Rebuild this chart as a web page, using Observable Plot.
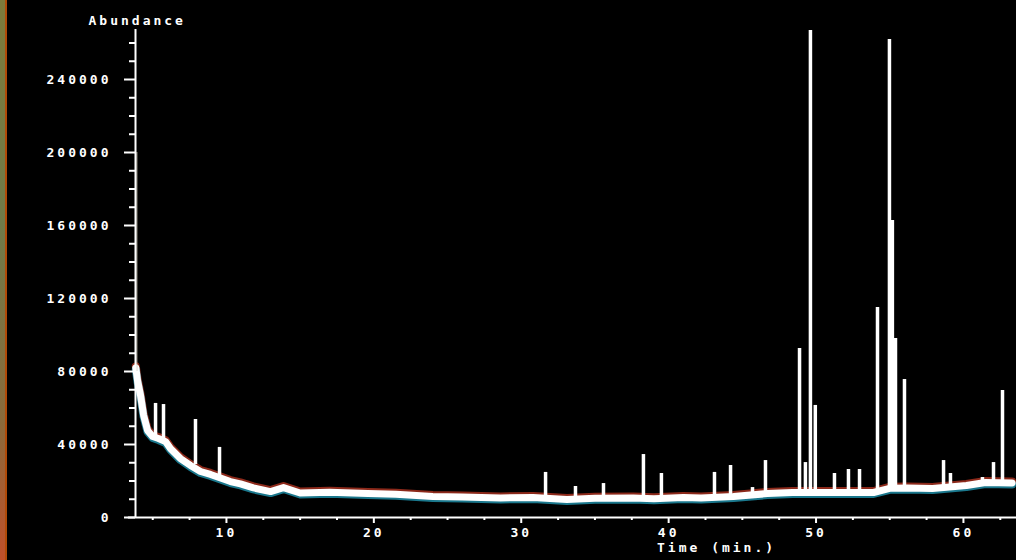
<!DOCTYPE html>
<html><head><meta charset="utf-8">
<script src="https://cdn.jsdelivr.net/npm/d3@7"></script>
<script src="https://cdn.jsdelivr.net/npm/@observablehq/plot@0.6"></script>
<style>
html,body{margin:0;padding:0;background:#000;}
#wrap{position:relative;width:1016px;height:560px;overflow:hidden;background:#000;}
#edge{position:absolute;left:0;top:0;width:5px;height:560px;background:linear-gradient(#7d7a3a,#6f7a48 40%,#8a6a3a 75%,#c0502a);}
#edge2{position:absolute;left:5px;top:0;width:2px;height:560px;background:#b04a08;}
svg text{font-family:'DejaVu Sans Mono',monospace !important;font-size:13px !important;font-weight:bold !important;letter-spacing:3px !important;}
</style></head><body>
<div id="wrap"><div id="chart"></div><div id="edge"></div><div id="edge2"></div></div>
<script>
// Baseline of the total ion chromatogram (time in min, abundance)
const baseTime  = [3.85, 3.97, 4.17, 4.38, 4.65, 4.99, 5.39, 5.87, 6.2, 6.88, 7.56, 8.24, 8.92, 9.6, 10.27, 10.95, 11.83, 12.99, 13.87, 15.0, 17.0, 19.6, 21.5, 24.0, 26.0, 28.6, 30.8, 33.1, 35.0, 37.6, 39.0, 41.0, 42.2, 44.4, 46.7, 48.4, 50.3, 53.9, 55.0, 56.2, 57.9, 60.2, 61.5, 63.3];
const baseAbund = [82000, 75000, 67000, 56000, 47700, 44400, 43300, 41600, 37800, 32300, 28500, 25200, 23600, 21600, 19700, 18400, 16200, 14200, 16400, 13400, 13800, 13100, 12700, 11500, 11200, 10700, 11000, 9900, 10500, 10700, 10300, 11000, 10700, 11500, 13100, 13700, 13700, 13700, 16000, 16200, 15900, 17500, 19200, 18900];

// Peaks: retention time, abundance at foot, abundance at apex
const peakTime = [5.19, 5.73, 7.9, 9.53, 31.65, 33.68, 35.58, 38.29, 39.51, 43.11, 44.2, 45.69, 46.57, 48.88, 49.28, 49.62, 49.95, 51.25, 52.2, 52.95, 54.17, 54.98, 55.18, 55.39, 56.0, 58.65, 59.12, 61.29, 62.04, 62.65];
const peakBase = [44000, 42500, 29000, 22000, 11000, 10000, 10500, 10700, 10400, 11000, 11500, 12500, 13100, 13700, 14500, 14500, 14500, 13700, 13700, 13700, 14500, 16000, 16000, 16000, 16200, 16500, 16800, 18500, 19200, 19100];
const peakTop  = [62500, 61900, 53700, 38400, 24700, 17000, 18600, 34500, 24100, 24700, 28500, 16400, 31200, 92600, 30100, 266900, 61400, 24100, 26300, 26300, 115100, 261900, 162800, 98100, 75600, 31200, 24100, 21900, 30100, 69600];

// Solvent front along the axis
const solventTime = [3.92];
const solventTop  = [200000];

// Axis ticks and labels
const yMajor = [0, 40000, 80000, 120000, 160000, 200000, 240000];
const yLabels = ["0", "40000", "80000", "120000", "160000", "200000", "240000"];
const yMinor = [10000, 20000, 30000, 50000, 60000, 70000, 90000, 100000, 110000, 130000, 140000, 150000, 170000, 180000, 190000, 210000, 220000, 230000, 250000, 260000];
const xMajor = [10, 20, 30, 40, 50, 60];
const xLabels = ["10", "20", "30", "40", "50", "60"];
const xMinor = [5, 7.5, 12.5, 15, 17.5, 22.5, 25, 27.5, 32.5, 35, 37.5, 42.5, 45, 47.5, 52.5, 55, 57.5, 62.5];

const yTitle = "Abundance";
const xTitle = "Time (min.)";

const baseline = baseTime.map((t, i) => ({t, v: baseAbund[i]}));
const peaks = peakTime.map((t, i) => ({t, base: peakBase[i], top: peakTop[i]}));
const solvent = solventTime.map((t, i) => ({t, top: solventTop[i]}));

const xMin = 3.83, xMax = 63.6, yMax = 267400;

const chart = Plot.plot({
  width: 1016, height: 560,
  marginLeft: 135, marginRight: 0, marginTop: 29, marginBottom: 43,
  x: {domain: [xMin, xMax]},
  y: {domain: [0, yMax]},
  style: {background: "#000", color: "#fff", fontFamily: "'DejaVu Sans Mono', monospace", fontSize: "13px", fontWeight: "bold"},
  marks: [
    // trace baseline with chromatic fringes
    Plot.line(baseline, {x: "t", y: "v", stroke: "#ff4a30", strokeWidth: 8, strokeOpacity: 0.55, dy: -1.5}),
    Plot.line(baseline, {x: "t", y: "v", stroke: "#30d8ff", strokeWidth: 8, strokeOpacity: 0.55, dy: 1.5}),
    Plot.line(baseline, {x: "t", y: "v", stroke: "#fff", strokeWidth: 7}),
    Plot.ruleX(solvent, {x: "t", y1: 80000, y2: "top", stroke: "#c8c0b0", strokeWidth: 1.5, strokeOpacity: 0.6}),
    Plot.ruleX(peaks, {x: "t", y1: "base", y2: "top", stroke: "#fff", strokeWidth: 3.5}),
    // axes lines
    Plot.ruleY([0], {x1: 3.35, x2: xMax, stroke: "#fff", strokeWidth: 2}),
    Plot.ruleX([xMin], {y1: 0, y2: yMax, stroke: "#fff", strokeWidth: 2}),
    // ticks
    Plot.axisY(yMajor, {tickSize: 11, tickPadding: 13, strokeWidth: 2, tickFormat: d => yLabels[yMajor.indexOf(d)], label: null}),
    Plot.axisY(yMinor, {tickSize: 6, strokeWidth: 2, tickFormat: () => "", label: null}),
    Plot.axisX(xMajor, {tickSize: 6, tickPadding: 4, strokeWidth: 2, tickFormat: d => xLabels[xMajor.indexOf(d)], label: null}),
    Plot.axisX(xMinor, {tickSize: 3, strokeWidth: 2, tickFormat: () => "", label: null}),
    // titles
    Plot.text([yTitle], {text: d => d, frameAnchor: "top-left", textAnchor: "start", dx: -47, dy: -14, fill: "#fff"}),
    Plot.text([xTitle], {text: d => d, frameAnchor: "bottom", textAnchor: "start", dx: 81, dy: 34, fill: "#fff"})
  ]
});
document.getElementById("chart").appendChild(chart);
</script>
</body></html>
